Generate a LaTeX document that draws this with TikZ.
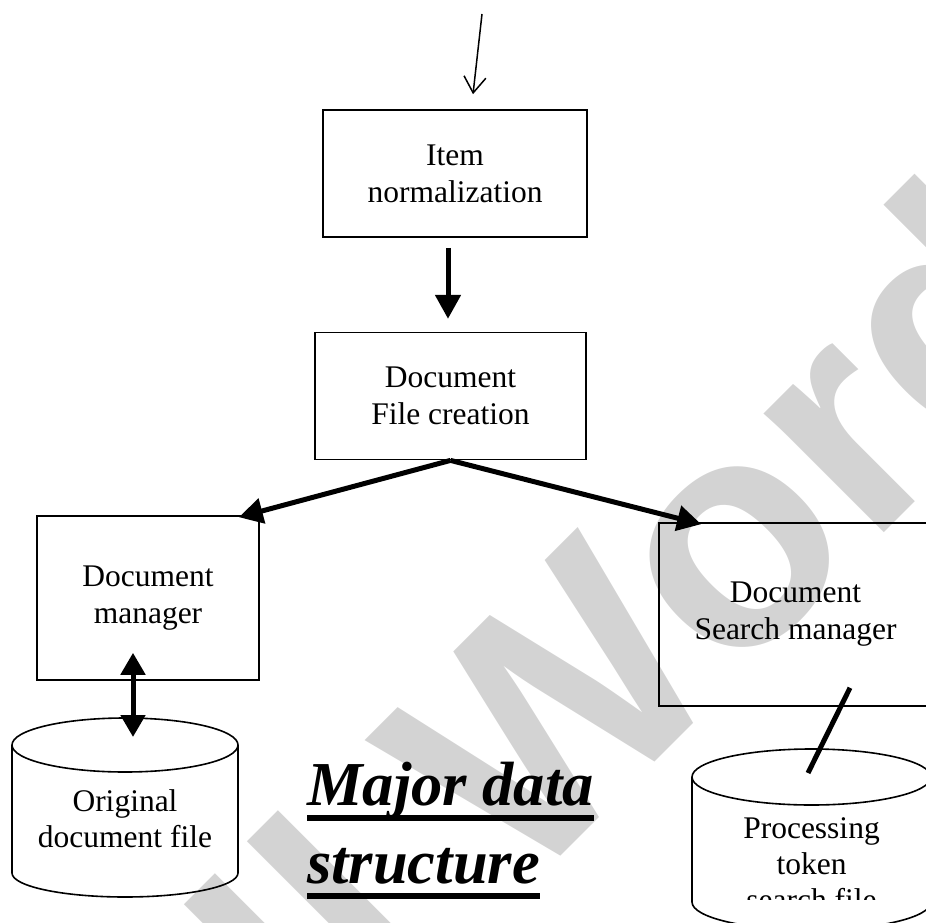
\documentclass[tikz,border=0pt]{standalone}
\usepackage{fontspec}
\setmainfont{Liberation Serif}
\newfontfamily\wmfont{Liberation Sans}
\usetikzlibrary{arrows.meta,positioning,calc}
\definecolor{wmgray}{RGB}{211,211,211}

\begin{document}
\begin{tikzpicture}[x=1pt,y=-1pt,
    box/.style={draw, line width=1.6pt, align=center, inner sep=0pt, font=\fontsize{31.5}{37}\selectfont},
    cyltext/.style={align=center, inner sep=0pt, font=\fontsize{31.5}{36}\selectfont},
    drum/.style={line width=1.6pt},
    flow/.style={line width=5pt, -{Triangle[length=24pt,width=25pt]}},
    dblflow/.style={line width=5pt, {Triangle[length=22pt,width=24pt]}-{Triangle[length=22pt,width=24pt]}},
    feed/.style={line width=1.5pt, -{Straight Barb[length=16pt,width=22pt]}},
    link/.style={line width=5pt},
    title/.style={inner sep=0pt, font=\fontsize{62.5}{78}\selectfont\bfseries\itshape},
    uline/.style={line width=6pt},
    wmark/.style={inner sep=0pt, text=wmgray, font=\wmfont\fontsize{320}{320}\selectfont\bfseries}]
  \useasboundingbox (0,0) rectangle (926,923);
  \clip (0,0) rectangle (926,923);

  % watermark behind everything
  \node[wmark, rotate=45, anchor=base east] (wm) at (1095,322) {Full Word};

  % processing steps
  \node[box, minimum width=264pt, minimum height=127pt] (norm) at (455,173.5) {Item\\normalization};
  \node[box, minimum width=271pt, minimum height=127pt, below=94pt of norm, xshift=-4.5pt] (create) {Document\\File creation};
  \node[box, minimum width=222pt, minimum height=164pt] (docman) at (148,598) {Document\\manager};
  \node[box, minimum width=273pt, minimum height=183pt] (searchman) at (795.5,614.5) {Document\\Search manager};

  % files
  \coordinate (origtop) at (125,745);
  \draw[drum] (12,745) -- (12,873) arc[start angle=180, end angle=0, x radius=113, y radius=24] -- (238,745);
  \draw[drum] (origtop) ellipse[x radius=113, y radius=27];
  \node[cyltext] (origfile) at (125,819) {Original\\document file};

  \coordinate (tokentop) at (811.5,777);
  \draw[drum] (692,777) -- (692,902) arc[start angle=180, end angle=0, x radius=119.5, y radius=28] -- (931,777);
  \draw[drum] (tokentop) ellipse[x radius=119.5, y radius=28];
  \begin{scope}
    % the text frame of the drum cuts its last line
    \clip (692,805) rectangle (931,899);
    \node[cyltext] (tokenfile) at (811.5,864) {Processing\\token\\search file};
  \end{scope}

  % title
  \node[title, anchor=base west] (title1) at (307,805) {Major data};
  \node[title, anchor=base west] (title2) at (307,883) {structure};
  \draw[uline] ([yshift=-13pt]title1.base west) -- ([yshift=-13pt]title1.base east);
  \draw[uline] ([yshift=-13pt]title2.base west) -- ([yshift=-13pt]title2.base east);

  % connectors
  \coordinate (src) at (482,14);
  \draw[feed] (src) -- ($(norm.north)+(18,-15)$);
  \draw[flow] ($(norm.south)+(-7,10)$) -- ($(create.north)+(-2.5,-13)$);
  \draw[flow] (create.south) -- ($(docman.north east)+(-21,2)$);
  \draw[flow] (create.south) -- ($(searchman.north west)+(43,2)$);
  \draw[dblflow] ($(docman.south)+(-15,-28)$) -- ($(origtop)+(8,-8)$);
  \draw[link] ($(searchman.south)+(54.5,-19)$) -- ($(tokentop)+(-3.5,-4)$);
\end{tikzpicture}
\end{document}
